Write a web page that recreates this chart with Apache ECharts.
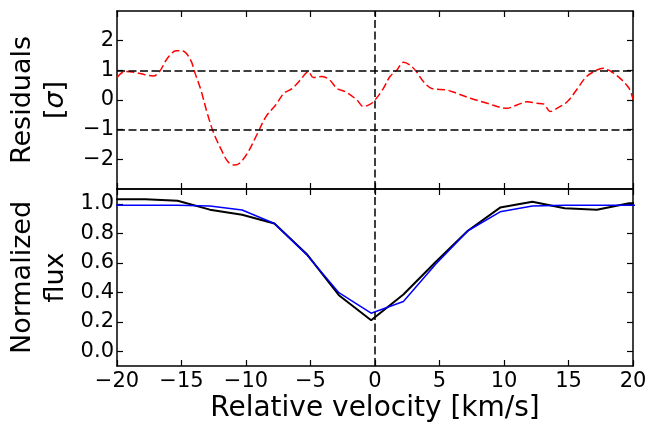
<!DOCTYPE html>
<html><head><meta charset="utf-8">
<script src="https://cdn.jsdelivr.net/npm/echarts@6/dist/echarts.min.js"></script>
<style>html,body{margin:0;padding:0;background:#fff}#c{width:650px;height:424px}</style>
</head><body><div id="c"></div>
<script>
// ---- data ----
const velocityTicks = [-20, -15, -10, -5, 0, 5, 10, 15, 20];
const residualTicks = [-2, -1, 0, 1, 2];
const fluxTicks = [0, 0.2, 0.4, 0.6, 0.8, 1.0];
const sigmaLevels = [-1, 1];
const centreVelocity = 0;

const fluxVelocity = [-20.3, -17.8, -15.3, -12.8, -10.3, -7.8, -5.3, -2.8, -0.3, 2.2, 4.7, 7.2, 9.7, 12.2, 14.7, 17.2, 19.7, 22.2];
const observedFlux = [1.03, 1.03, 1.02, 0.96, 0.925, 0.866, 0.66, 0.38, 0.21, 0.385, 0.605, 0.817, 0.974, 1.014, 0.97, 0.96, 1.003, 1.0];
const modelFlux    = [0.99, 0.99, 0.99, 0.985, 0.958, 0.866, 0.655, 0.397, 0.258, 0.337, 0.59, 0.817, 0.945, 0.985, 0.99, 0.99, 0.99, 0.99];

const residualVelocity = [-20, -19.4, -18.6, -17.9, -17.2, -16.7, -16.1, -15.4, -14.9, -14.3, -13.9, -13.5, -13.0, -12.5, -11.9, -11.4, -10.9, -10.5, -9.9, -9.1, -8.45, -7.7, -7.05, -6.4, -5.8, -5.15, -4.8, -4.1, -3.5, -2.95, -2.3, -1.4, -0.9, -0.4, 0, 0.65, 1.16, 1.7, 2.2, 2.7, 3.2, 3.75, 4.4, 5.55, 6.3, 7.4, 8.7, 10.2, 11.0, 11.8, 12.5, 13.05, 13.6, 14.1, 14.9, 15.7, 16.4, 17.2, 17.7, 18.3, 19.0, 19.7, 20];
const residualValues   = [0.76, 0.96, 0.93, 0.86, 0.81, 0.96, 1.4, 1.66, 1.65, 1.35, 0.84, 0.34, -0.45, -1.12, -1.69, -2.08, -2.19, -2.13, -1.8, -1.12, -0.56, -0.17, 0.23, 0.39, 0.67, 0.96, 0.76, 0.79, 0.67, 0.39, 0.28, 0.0, -0.22, -0.15, 0, 0.39, 0.79, 1.01, 1.27, 1.18, 0.96, 0.62, 0.39, 0.34, 0.23, 0.06, -0.11, -0.28, -0.17, -0.06, -0.11, -0.13, -0.39, -0.28, -0.06, 0.39, 0.79, 1.01, 1.07, 0.96, 0.73, 0.39, 0.02];

// ---- chart ----
const FONT = 'DejaVu Sans';
const zip = (xs, ys) => xs.map((x, i) => [x, ys[i]]);
const minus = v => String(v).replace('-', '\u2212');
const dash = [8, 3.5];

function xAx(grid, pos, labels, extra) {
  return Object.assign({
    gridIndex: grid, type: 'value', position: pos, min: -20, max: 20, interval: 5,
    axisLine: {onZero: false, lineStyle: {color: '#000', width: 1.5}},
    axisTick: {inside: true, length: 6, lineStyle: {color: '#000', width: 1.2}},
    axisLabel: {show: labels, color: '#000', fontFamily: FONT, fontSize: 21, margin: 5, formatter: minus},
    splitLine: {show: false}
  }, extra || {});
}
function yAx(grid, pos, min, max, ticks, labels, fmt, extra) {
  return Object.assign({
    gridIndex: grid, type: 'value', position: pos, min: min, max: max,
    axisLine: {onZero: false, lineStyle: {color: '#000', width: 1.5}},
    axisTick: {inside: true, length: 6, customValues: ticks, lineStyle: {color: '#000', width: 1.2}},
    axisLabel: {show: labels, customValues: ticks, color: '#000', fontFamily: FONT, fontSize: 21, margin: 3, formatter: fmt},
    splitLine: {show: false}
  }, extra || {});
}

const nameStyle = {
  color: '#000', fontFamily: FONT, fontSize: 27, align: 'center',
  rich: {
    a: {fontFamily: FONT, fontSize: 27, lineHeight: 33, color: '#000'},
    s: {fontFamily: FONT, fontSize: 27, lineHeight: 33, fontStyle: 'italic', color: '#000'}
  }
};

const vLine = {
  silent: true, symbol: 'none', label: {show: false},
  lineStyle: {color: '#000', type: dash, width: 1.5},
  data: [{xAxis: centreVelocity}]
};

const option = {
  animation: false,
  backgroundColor: '#fff',
  grid: [
    {left: 117, right: 17, top: 11, height: 178},
    {left: 117, right: 17, top: 189, height: 178}
  ],
  xAxis: [
    xAx(0, 'bottom', false),
    xAx(0, 'top', false),
    xAx(1, 'bottom', true, {
      name: 'Relative velocity [km/s]', nameLocation: 'middle', nameGap: 29,
      nameTextStyle: {color: '#000', fontFamily: FONT, fontSize: 28}
    }),
    xAx(1, 'top', false)
  ],
  yAxis: [
    yAx(0, 'left', -3, 3, residualTicks, true, minus, {
      name: '{a|Residuals}\n{a|[}{s|σ}{a|]}', nameLocation: 'middle', nameRotate: 90, nameGap: 45,
      nameTextStyle: nameStyle
    }),
    yAx(0, 'right', -3, 3, residualTicks, false, minus),
    yAx(1, 'left', -0.1, 1.1, fluxTicks, true, v => v.toFixed(1), {
      name: '{a|Normalized}\n{a|flux}', nameLocation: 'middle', nameRotate: 90, nameGap: 45,
      nameTextStyle: nameStyle
    }),
    yAx(1, 'right', -0.1, 1.1, fluxTicks, false, v => v.toFixed(1))
  ],
  series: [
    {
      type: 'line', xAxisIndex: 0, yAxisIndex: 0, data: zip(residualVelocity, residualValues),
      smooth: 0.35, showSymbol: false, symbol: 'none',
      lineStyle: {color: '#ff0000', width: 1.5, type: dash},
      markLine: {
        silent: true, symbol: 'none', label: {show: false},
        lineStyle: {color: '#000', type: dash, width: 1.5},
        data: sigmaLevels.map(v => ({yAxis: v})).concat([{xAxis: centreVelocity}])
      },
      z: 3
    },
    {
      type: 'line', xAxisIndex: 2, yAxisIndex: 2, data: zip(fluxVelocity, observedFlux),
      showSymbol: false, symbol: 'none', lineStyle: {color: '#000', width: 2},
      markLine: vLine, z: 3
    },
    {
      type: 'line', xAxisIndex: 2, yAxisIndex: 2, data: zip(fluxVelocity, modelFlux),
      showSymbol: false, symbol: 'none', lineStyle: {color: '#0000ff', width: 1.5}, z: 4
    }
  ]
};
echarts.init(document.getElementById('c'), null, {renderer: 'canvas'}).setOption(option);
</script></body></html>
